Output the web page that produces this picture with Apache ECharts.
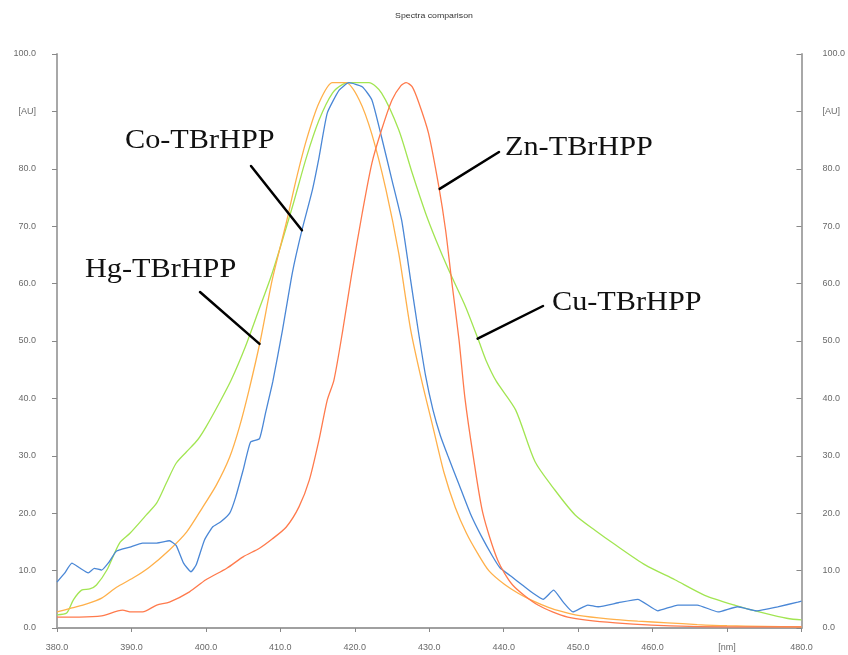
<!DOCTYPE html>
<html>
<head>
<meta charset="utf-8">
<script src="https://cdn.jsdelivr.net/npm/echarts@6/dist/echarts.min.js"></script>
<style>
  html, body { margin: 0; padding: 0; background: #fff; }
  #chart { width: 848px; height: 655px; }
</style>
</head>
<body>
<div id="chart"></div>
<script>
// Axis tick labels
const xTickLabels = ['380.0', '390.0', '400.0', '410.0', '420.0', '430.0', '440.0', '450.0', '460.0', '[nm]', '480.0'];
const yTickLabels = ['0.0', '10.0', '20.0', '30.0', '40.0', '50.0', '60.0', '70.0', '80.0', '[AU]', '100.0'];

// Co-TBrHPP spectrum
const coWl = [380, 381, 382, 383, 384.2, 385, 386, 387, 388, 389.8, 391.5, 393.4, 395.1, 396, 397, 398, 398.7, 399.8, 400.9, 402, 403.2, 404, 405, 406, 407.2, 408, 409, 410.3, 411.6, 412.9, 414.3, 415.2, 416.3, 417.9, 419.2, 421, 422.3, 423.6, 425, 426.3, 427.5, 428.5, 429.5, 430.5, 431.5, 432.5, 434, 435.5, 437, 438.5, 439.5, 441, 442.5, 444, 445.3, 446.7, 448, 449.3, 451.3, 452.7, 455.4, 458, 460.7, 463.4, 466, 468.8, 471.4, 474, 476.8, 479.5, 480];
const coVal = [8.0, 9.5, 11.3, 10.5, 9.6, 10.4, 10.1, 11.5, 13.4, 14.1, 14.8, 14.8, 15.2, 14.4, 11.3, 9.8, 11.0, 15.3, 17.6, 18.5, 20.0, 22.8, 27.5, 32.4, 33.0, 37.4, 43.0, 52.0, 61.8, 69.3, 76.3, 82.0, 89.7, 93.7, 95.0, 94.3, 92.0, 85.5, 78.0, 71.0, 60.6, 52.0, 44.0, 38.0, 33.5, 30.0, 25.0, 20.0, 16.0, 12.5, 10.5, 9.0, 7.5, 6.0, 5.0, 6.6, 4.5, 2.8, 4.0, 3.7, 4.4, 5.0, 3.0, 4.0, 4.0, 2.8, 3.7, 3.0, 3.7, 4.5, 4.7];

// Hg-TBrHPP spectrum
const hgWl = [380, 382, 384, 386, 388, 390.2, 392.4, 395.1, 397.4, 399.5, 401.4, 403.2, 404.5, 405.8, 407.3, 408.9, 410.8, 412.1, 413.5, 415.2, 417, 418.8, 420.6, 422.3, 424.2, 425.9, 427.5, 429, 430.5, 432, 433.5, 435, 436.5, 438, 440, 442, 443.5, 446, 448, 450, 454, 458, 462, 466, 470, 475, 480];
const hgVal = [2.8, 3.5, 4.2, 5.2, 7.1, 8.7, 10.6, 13.6, 16.7, 20.9, 24.9, 29.8, 35.0, 41.5, 50.0, 60.6, 70.6, 78.0, 85.0, 91.5, 95.0, 95.0, 92.0, 86.0, 76.3, 65.3, 52.0, 43.0, 35.0, 27.0, 21.0, 16.5, 13.0, 10.0, 7.7, 6.0, 5.0, 3.6, 2.8, 2.2, 1.6, 1.2, 0.9, 0.6, 0.4, 0.3, 0.2];

// Cu-TBrHPP spectrum
const cuWl = [380, 381.3, 382.2, 383.3, 384.4, 385.3, 386.7, 388.4, 389.8, 392, 393.4, 394.7, 396, 397.4, 398.9, 400, 401.8, 403.4, 405.3, 407, 408.9, 411.6, 413.5, 415.2, 417, 418.5, 419.6, 421.9, 423.6, 425.9, 427.7, 429.5, 430.9, 432.6, 434.9, 436.6, 437.6, 439, 441.6, 444.2, 446.9, 449.6, 452.3, 455, 459, 463, 467, 471, 475, 478, 480];
const cuVal = [2.3, 2.6, 4.9, 6.6, 6.8, 7.5, 10.1, 14.8, 16.5, 19.7, 21.8, 25.3, 28.7, 30.7, 32.8, 35.0, 39.2, 43.2, 49.0, 55.0, 61.8, 73.3, 82.0, 88.5, 93.2, 94.8, 95.0, 95.0, 93.2, 86.8, 79.3, 72.3, 67.6, 62.4, 55.9, 50.2, 46.7, 43.0, 38.0, 29.0, 24.0, 19.7, 17.0, 14.5, 11.0, 8.4, 5.7, 4.0, 2.6, 1.7, 1.4];

// Zn-TBrHPP spectrum
const znWl = [380, 383, 386, 388.8, 390, 391.5, 393.4, 395.1, 397.8, 400, 402.8, 405, 407.2, 408.9, 410.8, 412.5, 413.9, 415.2, 416.3, 417.2, 418.4, 419.6, 421, 422.3, 423.6, 425, 426.2, 426.9, 427.7, 428.6, 429.9, 431.3, 432.2, 433, 434, 434.8, 435.9, 437.2, 439.2, 441.2, 444.6, 448.6, 455, 465, 480];
const znVal = [1.9, 1.9, 2.1, 3.1, 2.8, 2.8, 4.0, 4.5, 6.3, 8.4, 10.4, 12.4, 13.9, 15.5, 17.6, 21.1, 25.8, 32.8, 39.7, 43.2, 52.0, 61.8, 72.3, 81.0, 86.8, 92.0, 94.5, 95.0, 94.3, 91.5, 86.2, 76.8, 69.3, 60.6, 50.2, 40.0, 30.0, 20.0, 11.8, 7.5, 4.0, 1.9, 0.9, 0.3, 0.2];

// Series names and colours
const seriesNames = ['Co-TBrHPP', 'Hg-TBrHPP', 'Cu-TBrHPP', 'Zn-TBrHPP'];
const seriesColors = ['#4a87d6', '#ffb04a', '#a2e552', '#ff7a4c'];

// Leader-line anchors on each curve [wavelength, value]
const anchorCo = [412.9, 69.3];
const anchorHg = [407.2, 49.5];
const anchorZn = [431.4, 76.5];
const anchorCu = [436.5, 50.4];

const pairs = (xs, ys) => xs.map((x, i) => [x, ys[i]]);

const chart = echarts.init(document.getElementById('chart'));

const tickFont = { fontSize: 9, color: '#6a6a6a', fontFamily: 'Arial, "Liberation Sans", sans-serif' };

function yAxisCfg(pos) {
  return {
    type: 'value', position: pos, min: 0, max: 100, interval: 10,
    axisLine: { show: true, lineStyle: { color: '#a8a8a8', width: 2 } },
    axisTick: { show: true, length: 5, inside: pos === 'right', lineStyle: { color: '#888', width: 1 } },
    splitLine: { show: false },
    axisLabel: Object.assign({
      margin: pos === 'left' ? 21 : 21,
      formatter: v => yTickLabels[Math.round(v / 10)]
    }, tickFont)
  };
}

const lineSeries = (name, data, color, smooth) => ({
  name, type: 'line', data, symbol: 'none', smooth,
  lineStyle: { color, width: 1.3 },
  itemStyle: { color },
  z: 2
});

chart.setOption({
  animation: false,
  backgroundColor: '#fff',
  grid: { left: 57, right: 44, top: 54, bottom: 27 },
  xAxis: {
    type: 'value', min: 380, max: 480, interval: 10,
    axisLine: { show: true, lineStyle: { color: '#a0a0a0', width: 2 } },
    axisTick: { show: true, length: 4, lineStyle: { color: '#888', width: 1 } },
    splitLine: { show: false },
    axisLabel: Object.assign({
      margin: 15,
      formatter: v => xTickLabels[Math.round((v - 380) / 10)]
    }, tickFont)
  },
  yAxis: [yAxisCfg('left'), yAxisCfg('right')],
  series: [
    lineSeries(seriesNames[2], pairs(cuWl, cuVal), seriesColors[2], 0.25),
    lineSeries(seriesNames[1], pairs(hgWl, hgVal), seriesColors[1], 0.25),
    lineSeries(seriesNames[0], pairs(coWl, coVal), seriesColors[0], 0.15),
    lineSeries(seriesNames[3], pairs(znWl, znVal), seriesColors[3], 0.25)
  ]
});

// Title and curve annotations with leader lines
const px = p => chart.convertToPixel({ xAxisIndex: 0, yAxisIndex: 0 }, p);
const labelFont = '27px "Liberation Serif", "Times New Roman", serif';

function label(text, x, yMid) {
  return {
    type: 'text', x, y: yMid, scaleX: 1.12, z: 10,
    style: { text, font: labelFont, fill: '#111', verticalAlign: 'middle', align: 'left' }
  };
}
function leader(from, anchor) {
  const to = px(anchor);
  return {
    type: 'line', z: 10,
    shape: { x1: from[0], y1: from[1], x2: to[0], y2: to[1] },
    style: { stroke: '#000', lineWidth: 2.5, lineCap: 'round' }
  };
}

chart.setOption({
  graphic: [
    {
      type: 'text', x: 434, y: 16, scaleX: 1.25, z: 10,
      style: { text: 'Spectra comparison', font: '7px Arial, "Liberation Sans", sans-serif', fill: '#333', align: 'center', verticalAlign: 'middle' }
    },
    label('Co-TBrHPP', 125, 141),
    label('Hg-TBrHPP', 85, 270),
    label('Zn-TBrHPP', 505, 148),
    label('Cu-TBrHPP', 552, 303),
    leader([251, 166], anchorCo),
    leader([200, 292], anchorHg),
    leader([499, 152], anchorZn),
    leader([543, 306], anchorCu)
  ]
});
</script>
</body>
</html>
